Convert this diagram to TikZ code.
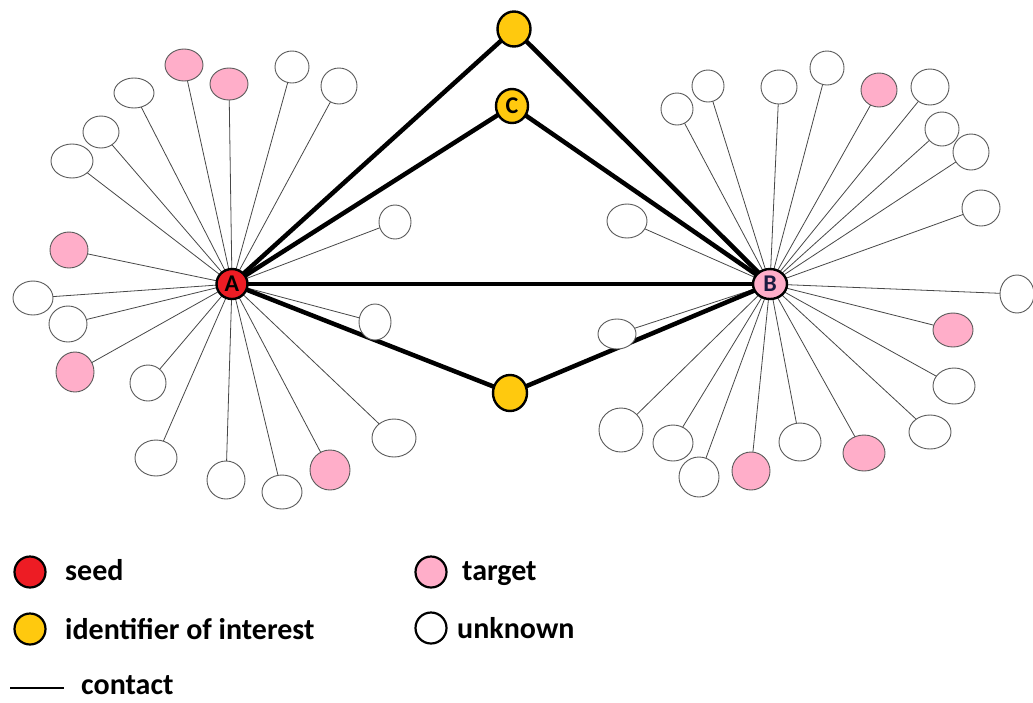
\documentclass[tikz,border=0pt]{standalone}
\usepackage{fontspec}
\setmainfont{Carlito}
\usetikzlibrary{shapes.geometric,backgrounds}
\definecolor{seedred}{HTML}{ED1C24}
\definecolor{idyel}{HTML}{FFC90E}
\definecolor{tpink}{HTML}{FFAEC9}
\definecolor{outl}{HTML}{5A5A5A}
\definecolor{navy}{HTML}{1A1A40}
\tikzset{
  wn/.style={ellipse,inner sep=0pt,draw=outl,line width=0.9pt,fill=white},
  pn/.style={ellipse,inner sep=0pt,draw=outl,line width=0.9pt,fill=tpink},
  keynode/.style={ellipse,inner sep=0pt,draw=black,line width=2.4pt,font=\bfseries\fontsize{24}{24}\selectfont},
  thinlink/.style={draw=black!72,line width=0.8pt},
  thicklink/.style={draw=black,line width=4.5pt},
  legtext/.style={anchor=base west,inner sep=0pt,font=\bfseries\fontsize{30}{30}\selectfont},
  legdot/.style={circle,inner sep=0pt,minimum size=31pt,draw=black,line width=2.2pt}
}
\begin{document}
\begin{tikzpicture}[x=1pt,y=-1pt]
\useasboundingbox (0,0) rectangle (1033,702);
% key nodes
\node[keynode,fill=seedred,minimum width=31pt,minimum height=30pt] (A) at (232,284) {A};
\node[keynode,fill=tpink,text=navy,minimum width=34pt,minimum height=30pt] (B) at (770,284) {B};
\node[keynode,fill=idyel,minimum width=33pt,minimum height=35pt] (Y1) at (514,29) {};
\node[keynode,fill=idyel,minimum width=32pt,minimum height=34pt] (C) at (512,106) {C};
\node[keynode,fill=idyel,minimum width=34pt,minimum height=36pt] (Y2) at (510,393) {};
% left cluster
\foreach \n/\x/\y/\a/\b/\s in {
 L1/184/65/19/16/pn, L2/229/84/19/16/pn, L3/292/67/17/16/wn, L4/339/86/18/18/wn,
 L5/134/93/20/15/wn, L6/101/132/18/16/wn, L7/72/161/21/17/wn, L8/69/250/19/18/pn,
 L9/395/222/16/17/wn, L10/33/298/20/17/wn, L11/68/324/19/18/wn, L12/75/372/19/20/pn,
 L13/148/383/18/18/wn, L14/375/322/16/18/wn, L15/394/438/22/19/wn, L16/156/458/21/18/wn,
 L17/226/480/19/19/wn, L18/282/492/20/17/wn, L19/330/470/20/20/pn}
 {\node[\s,minimum width=\a*2pt,minimum height=\b*2pt] (\n) at (\x,\y) {};}
% right cluster
\foreach \n/\x/\y/\a/\b/\s in {
 R1/708/86/16/16/wn, R2/677/109/16/16/wn, R3/779/87/18/17/wn, R4/827/68/17/17/wn,
 R5/879/90/18/17/pn, R6/930/87/19/18/wn, R7/942/129/17/17/wn, R8/971/152/18/18/wn,
 R9/981/208/19/18/wn, R10/627/221/20/17/wn, R11/1017/294/17/19/wn, R12/617/334/19/15/wn,
 R13/953/330/20/17/pn, R14/954/386/21/18/wn, R15/930/432/21/17/wn, R16/621/430/22/22/wn,
 R17/673/443/20/18/wn, R18/699/477/20/20/wn, R19/751/471/19/19/pn, R20/800/442/21/19/wn,
 R21/864/453/21/18/pn}
 {\node[\s,minimum width=\a*2pt,minimum height=\b*2pt] (\n) at (\x,\y) {};}
\begin{pgfonlayer}{background}
\foreach \n in {L1,L2,L3,L4,L5,L6,L7,L8,L9,L10,L11,L12,L13,L14,L15,L16,L17,L18,L19}
  \draw[thinlink] (A.center) -- (\n.center);
\foreach \n in {R1,R2,R3,R4,R5,R6,R7,R8,R9,R10,R11,R12,R13,R14,R15,R16,R17,R18,R19,R20,R21}
  \draw[thinlink] (B.center) -- (\n.center);
\draw[thicklink] (A.center) -- (Y1.center) -- (B.center);
\draw[thicklink] (A.center) -- (C.center) -- (B.center);
\draw[thicklink] (A.center) -- (B.center);
\draw[thicklink] (A.center) -- (Y2.center) -- (B.center);
\end{pgfonlayer}
% legend
\node[legdot,fill=seedred] (kseed) at (30,572) {};
\node[legtext] (tseed) at (65,580) {seed};
\node[legdot,fill=idyel] (kid) at (30,629) {};
\node[legtext] (tid) at (65,639) {identifier of interest};
\node[legdot,fill=tpink] (kt) at (431,572) {};
\node[legtext] (tt) at (462,580) {target};
\node[legdot,fill=white] (ku) at (431,628) {};
\node[legtext] (tu) at (457,638) {unknown};
\coordinate (c1) at (10,688);
\coordinate (c2) at (64,688);
\draw[black,line width=2pt] (c1) -- (c2);
\node[legtext] (tc) at (81,694) {contact};
\end{tikzpicture}
\end{document}
